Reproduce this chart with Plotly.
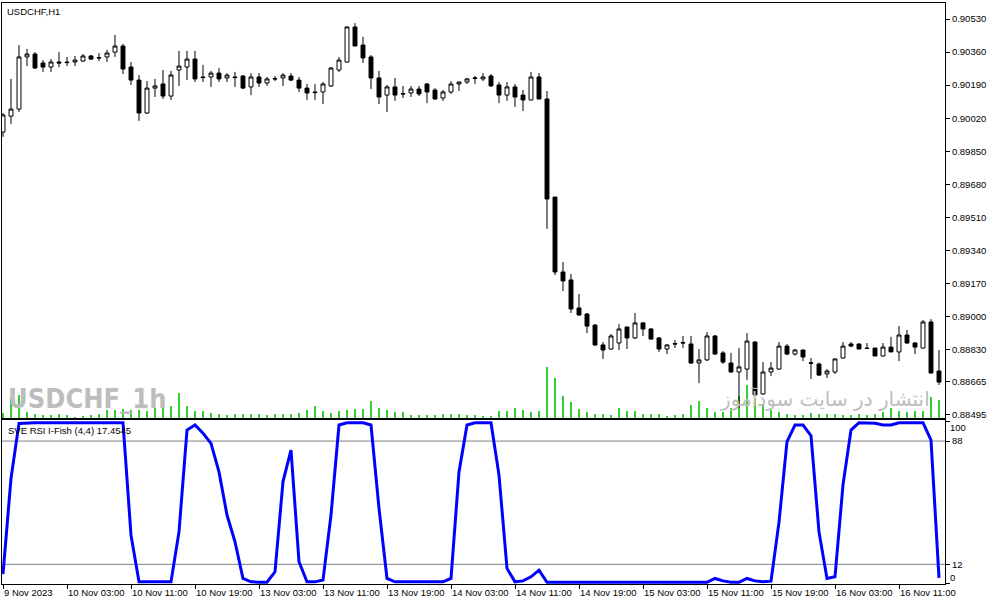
import plotly.graph_objects as go

title_text = "USDCHF,H1"
indicator_text = "SVE RSI I-Fish (4,4) 17.4545"
watermark_text = "USDCHF_1h"
site_text = "انتشار در سایت سودآموز"

opens = [0.89949, 0.90031, 0.90067, 0.90335, 0.90350, 0.90304, 0.90283, 0.90309, 0.90309, 0.90309,
         0.90314, 0.90340, 0.90332, 0.90335, 0.90360, 0.90391, 0.90283, 0.90216, 0.90047, 0.90175,
         0.90196, 0.90134, 0.90268, 0.90283, 0.90324, 0.90232, 0.90232, 0.90252, 0.90227, 0.90232,
         0.90237, 0.90181, 0.90232, 0.90201, 0.90224, 0.90227, 0.90237, 0.90216, 0.90175, 0.90155,
         0.90155, 0.90186, 0.90268, 0.90309, 0.90489, 0.90396, 0.90335, 0.90227, 0.90139, 0.90181,
         0.90147, 0.90150, 0.90170, 0.90196, 0.90165, 0.90124, 0.90155, 0.90196, 0.90206, 0.90224,
         0.90222, 0.90237, 0.90191, 0.90139, 0.90181, 0.90139, 0.90114, 0.90232, 0.90119, 0.89615,
         0.89230, 0.89189, 0.89045, 0.89014, 0.88957, 0.88855, 0.88834, 0.88865, 0.88947, 0.88891,
         0.88968, 0.88937, 0.88891, 0.88834, 0.88862, 0.88867, 0.88860, 0.88762, 0.88778, 0.88901,
         0.88814, 0.88762, 0.88716, 0.88731, 0.88870, 0.88603, 0.88716, 0.88731, 0.88849, 0.88808,
         0.88829, 0.88763, 0.88757, 0.88706, 0.88716, 0.88788, 0.88860, 0.88860, 0.88839, 0.88839,
         0.88798, 0.88844, 0.88819, 0.88906, 0.88865, 0.88839, 0.88973, 0.88721]

highs = [0.90047, 0.90222, 0.90396, 0.90376, 0.90360, 0.90319, 0.90324, 0.90360, 0.90335, 0.90340,
         0.90350, 0.90345, 0.90355, 0.90371, 0.90448, 0.90402, 0.90309, 0.90242, 0.90211, 0.90222,
         0.90268, 0.90263, 0.90366, 0.90366, 0.90366, 0.90294, 0.90263, 0.90278, 0.90252, 0.90258,
         0.90242, 0.90252, 0.90252, 0.90232, 0.90237, 0.90252, 0.90252, 0.90232, 0.90196, 0.90196,
         0.90206, 0.90283, 0.90335, 0.90492, 0.90509, 0.90438, 0.90345, 0.90263, 0.90191, 0.90227,
         0.90186, 0.90186, 0.90186, 0.90201, 0.90175, 0.90165, 0.90211, 0.90209, 0.90227, 0.90237,
         0.90252, 0.90247, 0.90206, 0.90206, 0.90196, 0.90165, 0.90258, 0.90252, 0.90160, 0.89615,
         0.89281, 0.89220, 0.89117, 0.89019, 0.88963, 0.88870, 0.88911, 0.88963, 0.88950, 0.89019,
         0.88973, 0.88942, 0.88896, 0.88860, 0.88880, 0.88901, 0.88901, 0.88834, 0.88921, 0.88906,
         0.88824, 0.88814, 0.88839, 0.88916, 0.88875, 0.88767, 0.88767, 0.88870, 0.88860, 0.88834,
         0.88831, 0.88788, 0.88764, 0.88731, 0.88785, 0.88870, 0.88870, 0.88862, 0.88865, 0.88839,
         0.88865, 0.88896, 0.88952, 0.88932, 0.88870, 0.88983, 0.88988, 0.88829]

lows = [0.89924, 0.89990, 0.90052, 0.90288, 0.90273, 0.90258, 0.90258, 0.90283, 0.90288, 0.90288,
        0.90309, 0.90319, 0.90314, 0.90309, 0.90335, 0.90247, 0.90191, 0.90006, 0.90042, 0.90129,
        0.90119, 0.90114, 0.90186, 0.90216, 0.90206, 0.90206, 0.90181, 0.90206, 0.90206, 0.90181,
        0.90170, 0.90139, 0.90181, 0.90186, 0.90211, 0.90186, 0.90211, 0.90155, 0.90114, 0.90114,
        0.90093, 0.90181, 0.90258, 0.90306, 0.90391, 0.90304, 0.90170, 0.90093, 0.90052, 0.90109,
        0.90124, 0.90129, 0.90134, 0.90098, 0.90114, 0.90109, 0.90145, 0.90160, 0.90196, 0.90196,
        0.90211, 0.90181, 0.90098, 0.90109, 0.90078, 0.90057, 0.90112, 0.90117, 0.89451, 0.89214,
        0.89132, 0.89019, 0.89004, 0.88916, 0.88849, 0.88783, 0.88831, 0.88829, 0.88834, 0.88885,
        0.88901, 0.88883, 0.88819, 0.88808, 0.88839, 0.88839, 0.88757, 0.88659, 0.88772, 0.88806,
        0.88757, 0.88711, 0.88531, 0.88675, 0.88595, 0.88600, 0.88695, 0.88728, 0.88803, 0.88800,
        0.88772, 0.88680, 0.88695, 0.88685, 0.88706, 0.88785, 0.88844, 0.88834, 0.88834, 0.88798,
        0.88796, 0.88819, 0.88772, 0.88860, 0.88808, 0.88837, 0.88706, 0.88649]

closes = [0.90037, 0.90067, 0.90335, 0.90350, 0.90278, 0.90283, 0.90309, 0.90304, 0.90306, 0.90319,
          0.90340, 0.90324, 0.90330, 0.90355, 0.90391, 0.90273, 0.90216, 0.90047, 0.90175, 0.90186,
          0.90134, 0.90242, 0.90288, 0.90324, 0.90222, 0.90229, 0.90252, 0.90222, 0.90242, 0.90229,
          0.90175, 0.90232, 0.90201, 0.90222, 0.90222, 0.90242, 0.90216, 0.90175, 0.90150, 0.90152,
          0.90196, 0.90278, 0.90319, 0.90489, 0.90391, 0.90330, 0.90227, 0.90129, 0.90181, 0.90139,
          0.90145, 0.90170, 0.90145, 0.90155, 0.90119, 0.90155, 0.90196, 0.90206, 0.90222, 0.90227,
          0.90232, 0.90186, 0.90139, 0.90181, 0.90129, 0.90114, 0.90232, 0.90119, 0.89605, 0.89230,
          0.89184, 0.89040, 0.89009, 0.88952, 0.88855, 0.88829, 0.88901, 0.88937, 0.88891, 0.88968,
          0.88937, 0.88885, 0.88834, 0.88855, 0.88860, 0.88865, 0.88762, 0.88778, 0.88901, 0.88808,
          0.88767, 0.88716, 0.88742, 0.88875, 0.88598, 0.88716, 0.88736, 0.88849, 0.88808, 0.88829,
          0.88793, 0.88761, 0.88700, 0.88721, 0.88783, 0.88849, 0.88849, 0.88834, 0.88837, 0.88798,
          0.88844, 0.88819, 0.88906, 0.88865, 0.88844, 0.88973, 0.88711, 0.88664]

volumes = [100, 400, 460, 120, 80, 60, 60, 80, 60, 30,
           40, 60, 80, 160, 160, 180, 160, 160, 140, 200,
           200, 240, 500, 240, 140, 140, 100, 80, 60, 80,
           80, 80, 80, 60, 80, 80, 80, 100, 160, 240,
           140, 100, 140, 160, 180, 180, 340, 200, 160, 120,
           120, 60, 60, 60, 60, 80, 80, 80, 60, 60,
           40, 40, 140, 140, 200, 160, 120, 140, 1020, 800,
           440, 320, 180, 120, 80, 80, 60, 200, 140, 140,
           80, 80, 80, 40, 60, 80, 260, 340, 200, 120,
           120, 200, 440, 660, 400, 280, 160, 120, 80, 60,
           60, 100, 80, 80, 80, 60, 60, 80, 60, 80,
           120, 200, 140, 120, 140, 140, 420, 360]

rsi = [6.0, 65.0, 98.9, 99.3, 99.3, 99.3, 99.3, 99.3, 99.3, 99.3,
       99.3, 99.3, 99.3, 99.3, 99.3, 99.3, 30.0, 1.2, 1.2, 1.2,
       1.2, 1.2, 32.0, 94.8, 97.9, 92.8, 86.6, 69.0, 42.4, 25.9,
       3.3, 1.2, 1.0, 1.0, 7.4, 63.0, 82.5, 13.6, 1.2, 1.2,
       2.3, 42.4, 97.9, 99.3, 99.3, 99.3, 97.9, 46.5, 3.3, 1.2,
       1.2, 1.2, 1.2, 1.2, 1.2, 1.2, 3.3, 69.0, 97.9, 99.3,
       99.3, 99.3, 67.0, 9.5, 1.2, 1.8, 4.3, 8.4, 0.9, 0.9,
       0.9, 0.9, 0.9, 0.9, 0.9, 0.9, 0.9, 0.9, 0.9, 0.9,
       0.9, 0.9, 0.9, 0.9, 0.9, 0.9, 0.9, 0.9, 0.9, 3.3,
       1.8, 0.9, 0.9, 3.3, 1.8, 1.2, 1.6, 38.0, 87.6, 97.9,
       97.9, 91.3, 32.0, 3.3, 4.3, 61.0, 94.8, 99.3, 99.3, 99.0,
       97.9, 97.9, 99.3, 99.3, 99.3, 99.3, 88.6, 3.7]

rsi_levels = [12, 88]
rsi_ticks = [0, 12, 88, 100]

price_ticks = [0.90530, 0.90360, 0.90190, 0.90020, 0.89850, 0.89680, 0.89510,
               0.89340, 0.89170, 0.89000, 0.88830, 0.88665, 0.88495]

time_tick_bars = [0, 8, 16, 24, 32, 40, 48, 56, 64, 72, 80, 88, 96, 104, 112]
time_tick_labels = ["9 Nov 2023", "10 Nov 03:00", "10 Nov 11:00", "10 Nov 19:00",
                    "13 Nov 03:00", "13 Nov 11:00", "13 Nov 19:00", "14 Nov 03:00",
                    "14 Nov 11:00", "14 Nov 19:00", "15 Nov 03:00", "15 Nov 11:00",
                    "15 Nov 19:00", "16 Nov 03:00", "16 Nov 11:00"]

n = len(closes)
assert len(opens) == n and len(highs) == n and len(lows) == n and len(volumes) == n and len(rsi) == n
bars = list(range(n))

FONT = "Liberation Sans, Arial, sans-serif"

fig = go.Figure()
fig.add_trace(go.Bar(x=bars, y=volumes, xaxis="x", yaxis="y", width=0.14,
                     marker=dict(color="#32CD32", line=dict(width=0)),
                     showlegend=False, hoverinfo="skip"))
fig.add_trace(go.Candlestick(x=bars, open=opens, high=highs, low=lows, close=closes,
                             xaxis="x", yaxis="y3", whiskerwidth=0,
                             increasing=dict(line=dict(color="black", width=1), fillcolor="white"),
                             decreasing=dict(line=dict(color="black", width=1), fillcolor="black"),
                             showlegend=False))
fig.add_trace(go.Scatter(x=bars, y=rsi, xaxis="x2", yaxis="y2", mode="lines",
                         line=dict(color="#0000FF", width=3), showlegend=False))

for lv in rsi_levels:
    fig.add_shape(type="line", xref="x2 domain", x0=0, x1=1, yref="y2", y0=lv, y1=lv,
                  line=dict(color="#808080", width=1), layer="below")

axis_common = dict(showgrid=False, zeroline=False, showline=True, mirror=True,
                   linecolor="black", linewidth=1, automargin=False)

fig.update_layout(
    width=991, height=605,
    margin=dict(l=2, r=46, t=3, b=21),
    paper_bgcolor="white", plot_bgcolor="white",
    font=dict(family=FONT, size=9.5, color="black"),
    showlegend=False, bargap=0,
    xaxis=dict(domain=[0, 1], anchor="y", range=[-0.125, 117.75], showticklabels=False,
               ticks="", rangeslider=dict(visible=False), **axis_common),
    xaxis2=dict(domain=[0, 1], anchor="y2", range=[-0.125, 117.75], tickmode="array",
                tickvals=time_tick_bars, ticktext=time_tick_labels, ticks="outside",
                ticklen=4, tickcolor="black", tickangle=0,
                ticklabelposition="outside right", **axis_common),
    yaxis=dict(domain=[0.2857, 1], anchor="x", range=[0, 8300], visible=False),
    yaxis3=dict(overlaying="y", anchor="x", side="right", range=[0.884795, 0.906122],
                tickmode="array", tickvals=price_ticks, tickformat=".5f", ticks="outside",
                ticklen=4, tickcolor="black", **axis_common),
    yaxis2=dict(domain=[0, 0.2823], anchor="x2", side="right", range=[-0.12, 101.0],
                tickmode="array", tickvals=rsi_ticks, ticktext=["", "12", "88", ""],
                ticks="outside", ticklen=4, tickcolor="black", **axis_common),
)

def px_x(px):
    return (px - 2) / 943.0

def px_y(py):
    return (584 - py) / 581.0

annots = [
    dict(text=title_text, x=px_x(5), y=px_y(11), xanchor="left", yanchor="middle",
         font=dict(family=FONT, size=9.5, color="black")),
    dict(text=indicator_text, x=px_x(6), y=px_y(430), xanchor="left", yanchor="middle",
         font=dict(family=FONT, size=9.5, color="black")),
    dict(text="<b>" + watermark_text + "</b>", x=px_x(6), y=px_y(398), xanchor="left",
         yanchor="middle",
         font=dict(family="Liberation Sans Narrow, DejaVu Sans Condensed, Liberation Sans",
                   size=27, color="#bdbdbd")),
    dict(text=site_text, x=px_x(932), y=px_y(398), xanchor="right", yanchor="middle",
         font=dict(family="DejaVu Sans", size=20, color="#bdbdbd")),
    dict(text="100", x=1, xshift=3, y=px_y(427), xanchor="left", yanchor="middle",
         font=dict(family=FONT, size=9.5, color="black")),
    dict(text="0", x=1, xshift=3, y=px_y(577), xanchor="left", yanchor="middle",
         font=dict(family=FONT, size=9.5, color="black")),
]
for a in annots:
    fig.add_annotation(xref="paper", yref="paper", showarrow=False, **a)

fig.write_html("out.html", config={"displayModeBar": False},
               post_script="document.body.style.margin='0px';")
